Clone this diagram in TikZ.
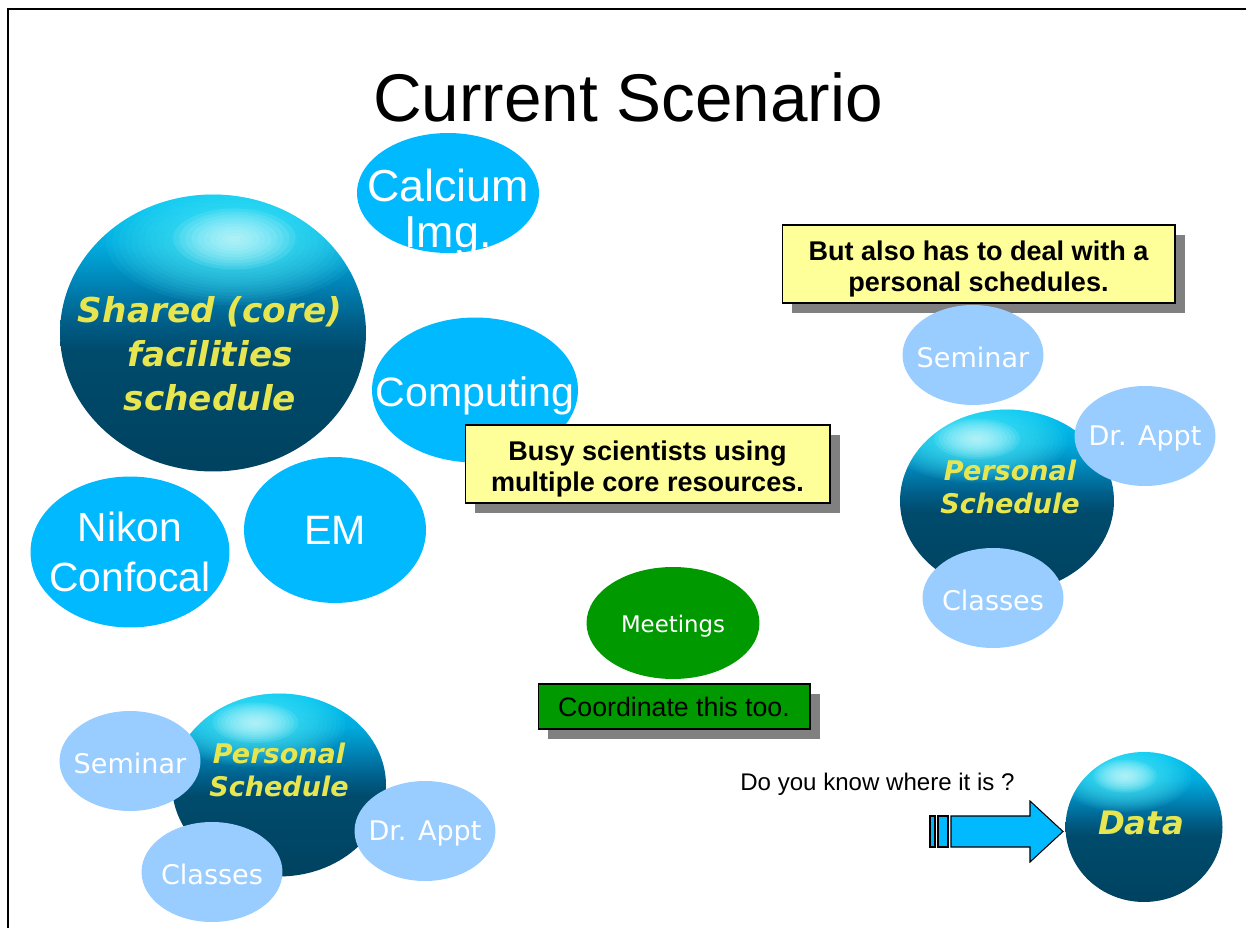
\documentclass[tikz,border=0pt]{standalone}
\usepackage{fontspec}
\setmainfont{Liberation Sans}
\newfontfamily\verdana{DejaVu Sans}[ItalicFont={DejaVu Sans Oblique},BoldFont={DejaVu Sans Bold},BoldItalicFont={DejaVu Sans Bold Oblique}]
\usetikzlibrary{shapes.geometric,shadows,calc}

\definecolor{bubblecyan}{RGB}{0,185,255}
\definecolor{bubblepale}{RGB}{153,204,255}
\definecolor{meetgreen}{RGB}{0,153,0}
\definecolor{noteyellow}{RGB}{255,255,153}
\definecolor{shadowgray}{RGB}{128,128,128}
\definecolor{labelyellow}{RGB}{232,230,80}
\definecolor{globetop}{RGB}{0,195,240}
\definecolor{globehigh}{RGB}{0,172,222}
\definecolor{globeupper}{RGB}{0,132,182}
\definecolor{globemid}{RGB}{0,94,136}
\definecolor{globelow}{RGB}{0,75,108}
\definecolor{globedark}{RGB}{0,66,96}
\definecolor{glowcyan}{RGB}{90,245,255}
\definecolor{glowwhite}{RGB}{235,255,255}

\pgfdeclareverticalshading{globeaxis}{100bp}{color(0bp)=(globedark); color(25bp)=(globedark); color(47bp)=(globelow); color(52bp)=(globemid); color(59bp)=(globeupper); color(66bp)=(globehigh); color(75bp)=(globetop); color(100bp)=(globetop)}

\tikzset{
  bubble/.style={ellipse, fill=bubblecyan, inner sep=0pt},
  bubbletext/.style={text=white, align=center, font=\fontsize{23.4}{26}\selectfont},
  pale/.style={ellipse, fill=bubblepale, inner sep=0pt, minimum width=2.82cm, minimum height=2cm},
  paletext/.style={text=white, yshift=-0.05cm, font=\verdana\fontsize{15.4}{18}\selectfont},
  globe/.style={ellipse, inner sep=0pt, shade, shading=globeaxis,
    path picture={
      \foreach \k in {1,...,20}
        \fill[glowcyan, fill opacity=0.065] let \p1=(path picture bounding box.south west), \p2=(path picture bounding box.north east) in
          ({\x1+#1*(\x2-\x1)}, {\y1+0.83*(\y2-\y1)}) ellipse ({\k*0.021*(\x2-\x1)} and {\k*0.0115*(\y2-\y1)});
      \foreach \k in {1,...,10}
        \fill[glowwhite, fill opacity=0.1] let \p1=(path picture bounding box.south west), \p2=(path picture bounding box.north east) in
          ({\x1+#1*(\x2-\x1)}, {\y1+0.84*(\y2-\y1)}) ellipse ({\k*0.02*(\x2-\x1)} and {\k*0.011*(\y2-\y1)});
    }},
  globe/.default=0.42,
  globelabel/.style={text=labelyellow, align=center},
  note/.style={draw=black, line width=0.6pt, fill=noteyellow, inner sep=0pt, align=center, text height=34.5pt,
    drop shadow={shadow xshift=0.2cm, shadow yshift=-0.2cm, fill=shadowgray, opacity=1},
    font=\bfseries\fontsize{15.4}{17.6}\selectfont},
  blockarrow/.style={fill=bubblecyan, draw=black, line width=0.6pt},
}

\begin{document}
\begin{tikzpicture}[x=0.02cm, y=-0.02cm]
	\useasboundingbox (0,0) rectangle (1246,928);
\draw[line width=1.1pt] (8,928) -- (8,9) -- (1246,9) ; % frame
\node[anchor=base, font=\fontsize{38.4}{46}\selectfont] (title) at (628,122) {Current Scenario};
\node[globe=0.57, minimum width=6.12cm, minimum height=5.54cm] (shared) at (213,333) {}; % shared
\node[globelabel, font=\verdana\bfseries\itshape\fontsize{19.5}{25}\selectfont] (sharedtext) at (210,354) {Shared (core)\\facilities\\schedule};
\node[bubble, minimum width=3.64cm, minimum height=2.4cm, label={[bubbletext, yshift=-0.4cm, font=\fontsize{25.5}{26.5}\selectfont]center:Calcium\\Img.}] (calcium) at (448,193) {};
\node[bubble, minimum width=4.12cm, minimum height=2.9cm, label={[bubbletext, yshift=-0.12cm]center:Computing}] (computing) at (475,390) {};
\node[bubble, minimum width=3.98cm, minimum height=3.02cm, label={[bubbletext, font=\fontsize{23.2}{28}\selectfont]center:Nikon\\Confocal}] (nikon) at (130,552) {};
\node[bubble, minimum width=3.64cm, minimum height=2.92cm, label={[bubbletext]center:EM}] (em) at (335,530) {};
\node[note, minimum width=7.3cm, minimum height=1.56cm] (busy) at (647.5,464) {Busy scientists using\\multiple core resources.};
\node[note, minimum width=7.86cm, minimum height=1.56cm] (also) at (978.5,264) {But also has to deal with a\\personal schedules.};
% right personal schedule
\node[pale, label={[paletext]center:Seminar}] (seminar1) at (973,355) {};
\node[globe=0.36, minimum width=4.28cm, minimum height=3.66cm] (personal1) at (1007,501) {};
\node[globelabel, font=\verdana\bfseries\itshape\fontsize{15.4}{18.8}\selectfont] (personaltext1) at (1010,487) {Personal\\Schedule};
\node[pale, label={[paletext]center:Dr. Appt}] (appt1) at (1145,436) {};
\node[pale, label={[paletext]center:Classes}] (classes1) at (993,598) {};
% meetings
\node[ellipse, fill=meetgreen, inner sep=0pt, minimum width=3.46cm, minimum height=2.24cm, label={[text=white, yshift=-0.06cm, font=\verdana\fontsize{13}{15}\selectfont]center:Meetings}] (meetings) at (673,623) {};
\node[draw=black, line width=0.6pt, fill=meetgreen, inner sep=0pt, minimum width=5.44cm, minimum height=0.9cm, drop shadow={shadow xshift=0.2cm, shadow yshift=-0.2cm, fill=shadowgray, opacity=1}, font=\fontsize{15.2}{18}\selectfont] (coordinate) at (674,706.5) {Coordinate this too.};
% left personal schedule
\node[globe=0.39, minimum width=4.28cm, minimum height=3.66cm] (personal2) at (279,785) {};
\node[globelabel, font=\verdana\bfseries\itshape\fontsize{15.4}{18.8}\selectfont] (personaltext2) at (279,770) {Personal\\Schedule};
\node[pale, label={[paletext]center:Seminar}] (seminar2) at (130,761) {};
\node[pale, label={[paletext]center:Classes}] (classes2) at (212,872) {};
\node[pale, label={[paletext]center:Dr. Appt}] (appt2) at (425,831) {};
% data
\node[anchor=base west, inner sep=0pt, font=\fontsize{13.7}{16}\selectfont] (where) at (740,790) {Do you know where it is ?};
\fill[blockarrow] (930,816) rectangle (935,847) ;
\fill[blockarrow] (938,816) rectangle (948,847) ;
\fill[blockarrow] (951,816) -- (1030,816) -- (1030,801) -- (1063,831.5) -- (1030,862) -- (1030,847) -- (951,847) -- cycle ;
\node[globe=0.38, minimum width=3.14cm, minimum height=3cm] (data) at (1144,827) {};
\node[globelabel, font=\verdana\bfseries\itshape\fontsize{18.4}{22}\selectfont] (datatext) at (1141,823) {Data};
	\end{tikzpicture}
\end{document}
